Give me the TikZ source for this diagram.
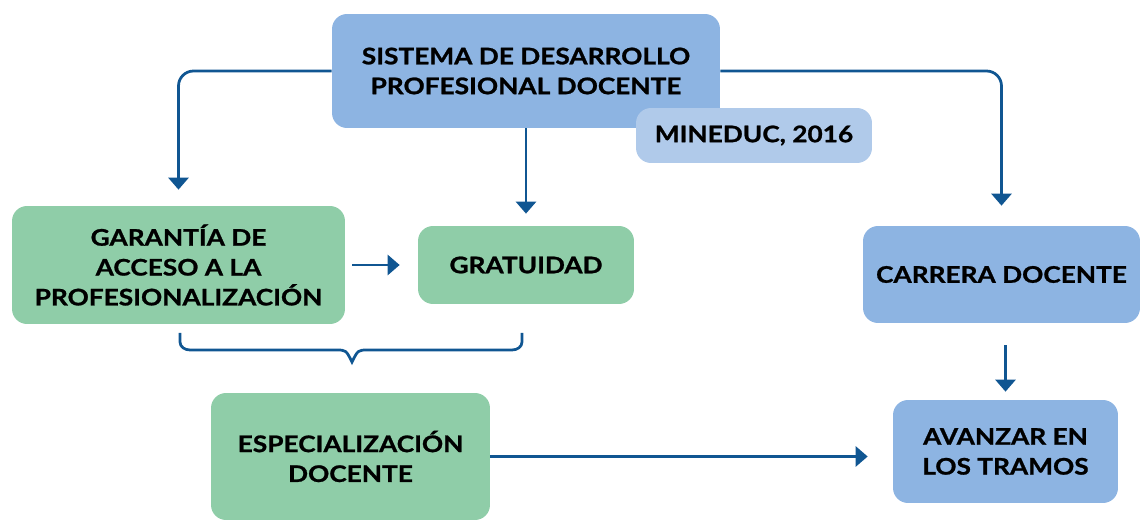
\documentclass[tikz,border=0pt]{standalone}
\usepackage{fontspec}
\setmainfont{Lato}[BoldFeatures={FakeStretch=1.15, FakeBold=1}]
\usetikzlibrary{arrows.meta}
\definecolor{boxblue}{RGB}{141,180,226}
\definecolor{citeblue}{RGB}{176,202,234}
\definecolor{boxgreen}{RGB}{143,205,168}
\definecolor{linkblue}{RGB}{16,86,146}
\tikzset{
  box/.style={rectangle, rounded corners=0.3cm, align=center, inner sep=0pt,
    font=\fontsize{13}{17}\selectfont\bfseries},
  bluebox/.style={box, fill=boxblue},
  greenbox/.style={box, fill=boxgreen},
  link/.style={draw=linkblue, line width=0.055cm, ->, >={Triangle[width=0.4cm,length=0.24cm]}},
  brace/.style={draw=linkblue, line width=0.055cm}
}
\begin{document}
\begin{tikzpicture}[x=0.02cm, y=-0.02cm]
				\useasboundingbox (0,0) rectangle (1140,520);
				\node[bluebox, minimum width=7.76cm, minimum height=2.28cm] (sistema)at(526, 71) {SISTEMA DE DESARROLLO\\PROFESIONAL DOCENTE};
				\node[box, fill=citeblue, minimum width=4.72cm, minimum height=1.1cm] (mineduc)at(754, 135.5) {MINEDUC, 2016};
				\node[greenbox, minimum width=6.66cm, minimum height=2.36cm] (garantia)at(178.5, 265) {GARANTÍA DE\\ACCESO A LA\\PROFESIONALIZACIÓN};
				\node[greenbox, minimum width=4.32cm, minimum height=1.56cm] (gratuidad)at(526, 265) {GRATUIDAD};
				\node[bluebox, minimum width=5.54cm, minimum height=1.94cm] (carrera)at(1001.5, 274.5) {CARRERA DOCENTE};
				\node[greenbox, minimum width=5.58cm, minimum height=2.54cm] (especial)at(350.5, 456.5) {ESPECIALIZACIÓN\\DOCENTE};
				\node[bluebox, minimum width=4.5cm, minimum height=2.06cm] (avanzar)at(1005.5, 451.5) {AVANZAR EN\\LOS TRAMOS};
				\coordinate (braceL)at(180, 333);
				\coordinate (braceR)at(522, 333);
				\coordinate (braceTip)at(352, 362);
				\draw[link, rounded corners=0.3cm, shorten >=0.32cm] (sistema.west) -| (garantia.north);
				\draw[link, shorten >=0.24cm] (sistema.south) -- (gratuidad.north);
				\draw[link, rounded corners=0.3cm, shorten >=0.4cm] (sistema.east) -| (carrera.north);
				\draw[link, shorten <=0.14cm, shorten >=0.36cm] (garantia.east) -- (gratuidad.west);
				\draw[link, shorten <=0.44cm, shorten >=0.16cm] (avanzar.north |- carrera.south) -- (avanzar.north);
				\draw[link, shorten >=0.5cm] (especial.east) -- (especial.east -| avanzar.west);
				\draw[brace] (braceL) -- (180, 342) to[out=-90, in=180] (190, 350) -- (336, 350) .. controls (346, 350) .. (braceTip) .. controls (358, 350) .. (368, 350) -- (512, 350) to[out=0, in=-90] (522, 342) -- (braceR);
			\end{tikzpicture}
\end{document}
